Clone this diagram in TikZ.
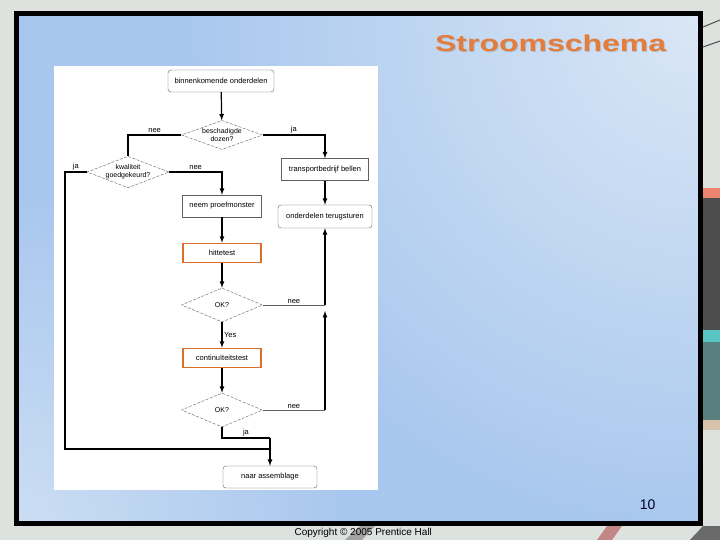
\documentclass[tikz,border=0pt]{standalone}
\usepackage{fontspec}
\setmainfont{Liberation Sans}
\usetikzlibrary{calc,shapes.geometric,fadings}

\definecolor{titeloranje}{RGB}{228,125,60}
\definecolor{kaderoranje}{RGB}{222,108,42}
\definecolor{dia}{RGB}{168,199,238}
\definecolor{dialicht}{RGB}{218,231,246}
\definecolor{foto}{RGB}{222,226,223}
\definecolor{lijn}{RGB}{95,95,95}

\newcommand{\stroomfont}{\fontsize{7.5}{8.2}\selectfont}
\newcommand{\vraagfont}{\fontsize{7}{7.8}\selectfont}
\tikzfading[name=gloed, inner color=transparent!0, outer color=transparent!100]

\tikzset{
  eind/.style={draw=lijn, rounded corners=3pt, font=\stroomfont, minimum height=22pt},
  stap/.style={draw=lijn, font=\stroomfont, minimum height=22pt},
  proef/.style={draw=kaderoranje, line width=1.6pt, font=\stroomfont, minimum width=78pt, minimum height=19pt},
  keuze/.style={diamond, draw=lijn, dash pattern=on 3pt off 1.5pt, aspect=2.6, inner sep=0pt, align=center, font=\vraagfont, minimum width=81pt},
  keus/.style={font=\stroomfont, inner sep=1.5pt},
  pijl/.style={->, line width=1.2pt},
  dik/.style={line width=1.1pt},
  dun/.style={draw=lijn, line width=0.6pt}
}

\begin{document}
\begin{tikzpicture}[x=1pt, y=-1pt, >=latex]
        \useasboundingbox (0,0) rectangle (720,540);

        % achtergrond en dia
        \fill[foto] (0,0) rectangle (720,540);
        \draw[black!70, line width=1pt] (703,27) -- (720,20) (703,47) -- (720,41);
        \fill[red!70!orange, opacity=0.5] (703,188) rectangle (720,198);
        \fill[black!80, opacity=0.85] (703,198) rectangle (720,330);
        \fill[teal!60!cyan, opacity=0.6] (703,330) rectangle (720,342);
        \fill[black!50!teal, opacity=0.6] (703,342) rectangle (720,420);
        \fill[brown!70, opacity=0.5] (703,420) rectangle (720,430);
        \fill[black!60, opacity=0.5] (345,540) -- (360,526) -- (375,526) -- (362,540) -- cycle;
        \fill[red!60!black, opacity=0.4] (597,540) -- (607,526) -- (622,526) -- (612,540) -- cycle;
        \fill[black!70, opacity=0.8] (690,540) -- (703,526) -- (720,526) -- (720,540) -- cycle;

        \fill[dia] (19,16) rectangle (698,521);
        \begin{scope}
            \clip (19,16) rectangle (698,521);
            \fill[dialicht, path fading=gloed] (698,16) circle (520pt);
            \fill[dialicht, path fading=gloed, fill opacity=0.7] (19,521) circle (330pt);
        \end{scope}
        \draw[black, line width=5pt] (16.5,13.5) rectangle (700.5,523.5);
        \fill[white] (54,66) rectangle (378,490);

        \node (schaduw) [anchor=base east, font=\fontsize{23}{26}\selectfont\bfseries, text=black!60, opacity=0.25, xscale=1.39] at (672,53) {Stroomschema};
        \node (titel) [anchor=base east, font=\fontsize{23}{26}\selectfont\bfseries, text=titeloranje, xscale=1.39] at (671,52) {Stroomschema};
        \node (nummer) [anchor=base east, font=\fontsize{14}{16}\selectfont, text=black!85!blue] at (659,509) {10};
        \node (copyright) [anchor=base west, font=\fontsize{10}{12}\selectfont] at (291,535) {Copyright © 2005 Prentice Hall};

        % stroomschema
        \node (binnen) [eind, minimum width=106pt] at (221,81) {binnenkomende onderdelen};
        \node (dozen) [keuze, minimum height=29pt] at (222,135) {beschadigde\\dozen?};
        \node (kwal) [keuze, minimum height=31pt, minimum width=80pt] at (128,172) {kwaliteit\\goedgekeurd?};
        \node (bellen) [stap, minimum width=87pt] at (325,169.5) {transportbedrijf bellen};
        \node (terug) [eind, minimum width=94pt, minimum height=23pt] at (325,216.5) {onderdelen terugsturen};
        \node (monster) [stap, minimum width=79pt] at (222,206) {neem proefmonster};
        \node (hitte) [proef] at (222,253) {hittetest};
        \node (ok1) [keuze, minimum height=34pt] at (222,305) {OK?};
        \node (cont) [proef] at (222,358) {continuïteitstest};
        \node (ok2) [keuze, minimum height=34pt] at (222,410) {OK?};
        \node (assem) [eind, minimum width=94pt] at (270,477) {naar assemblage};

        \coordinate (zij) at (65,449);
        \coordinate (knik) at (270,438);

        \draw[pijl] (binnen) -- (dozen);
        \draw[pijl] (dozen.east) -| node[keus, pos=0.25, above]{ja} (bellen.north);
        \draw[dik] (dozen.west) -| node[keus, pos=0.25, above]{nee} (kwal.north);
        \draw[pijl] (kwal.east) -| node[keus, pos=0.25, above]{nee} (monster.north);
        \draw[dik] (kwal.west) -| node[keus, pos=0.25, above]{ja} (zij) -- (zij -| knik);
        \draw[pijl] (bellen) -- (terug);
        \draw[pijl] (monster) -- (hitte);
        \draw[pijl] (hitte) -- (ok1);
        \draw[pijl] (ok1) -- node[keus, right]{Yes} (cont);
        \draw[pijl] (cont) -- (ok2);
        \draw[dun] (ok1.east) -- node[keus, above]{nee} (ok1.east -| terug.south) coordinate (samen);
        \draw[pijl] (samen) -- (terug.south);
        \draw[dun] (ok2.east) -- node[keus, above]{nee} (ok2.east -| terug.south) coordinate (hoek);
        \draw[pijl] (hoek) -- ($(samen)+(0,6)$);
        \draw[dik] (ok2.south) |- node[keus, pos=0.75, above]{ja} (knik);
        \draw[pijl] (knik) -- (assem.north);
    \end{tikzpicture}
\end{document}
